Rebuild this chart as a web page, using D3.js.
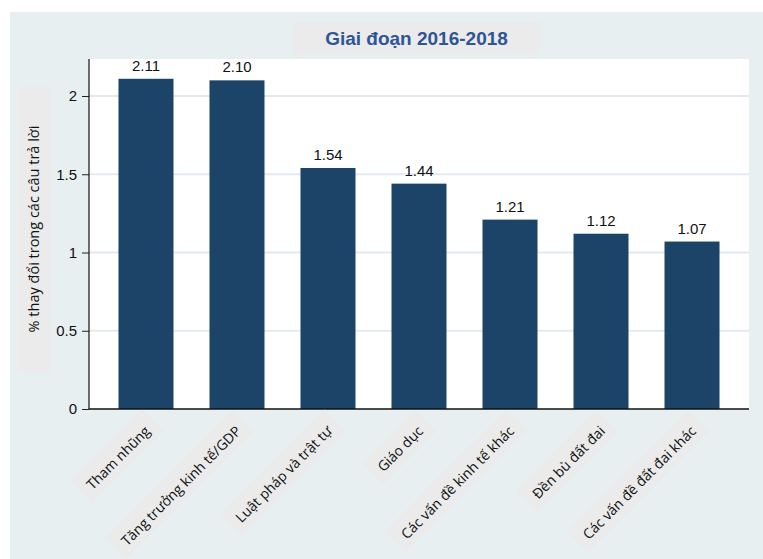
<!DOCTYPE html>
<html>
<head>
<meta charset="utf-8">
<script src="https://cdn.jsdelivr.net/npm/d3@7"></script>
<style>
  body { margin: 0; background: #ffffff; }
  svg { display: block; }
</style>
</head>
<body>
<svg id="chart" width="763" height="559"></svg>
<script>
// Issue categories and the change in share of answers (%)
const categories = [
  "Tham nhũng",
  "Tăng trưởng kinh tế/GDP",
  "Luật pháp và trật tự",
  "Giáo dục",
  "Các vấn đề kinh tế khác",
  "Đền bù đất đai",
  "Các vấn đề đất đai khác"
];
const values = [2.11, 2.10, 1.54, 1.44, 1.21, 1.12, 1.07];
const yTicks = [0, 0.5, 1, 1.5, 2];
const titleText = "Giai đoạn 2016-2018";
const yTitleText = "% thay đổi trong các câu trả lời";

const W = 763, H = 559;
const plot = { left: 89, right: 749, top: 59, bottom: 409 };

const svg = d3.select("#chart");

// outer panel
svg.append("rect")
  .attr("x", 10).attr("y", 12)
  .attr("width", W - 10).attr("height", H - 12)
  .attr("fill", "#e8eff1");

const x = d3.scaleBand()
  .domain(categories)
  .range([plot.left, plot.right])
  .paddingInner(0.3956)
  .paddingOuter(0.324);

const y = d3.scaleLinear()
  .domain([0, 2])
  .range([plot.bottom, 96]);

// plot region
svg.append("rect")
  .attr("x", plot.left).attr("y", plot.top)
  .attr("width", plot.right - plot.left)
  .attr("height", plot.bottom - plot.top)
  .attr("fill", "#ffffff");

// horizontal grid
svg.append("g")
  .selectAll("line")
  .data(yTicks.filter(d => d > 0))
  .join("line")
  .attr("x1", plot.left).attr("x2", plot.right)
  .attr("y1", d => y(d)).attr("y2", d => y(d))
  .attr("stroke", "#e2eaef")
  .attr("stroke-width", 2);

// bars
svg.append("g")
  .selectAll("rect")
  .data(categories)
  .join("rect")
  .attr("x", d => x(d))
  .attr("y", (d, i) => y(values[i]))
  .attr("width", x.bandwidth())
  .attr("height", (d, i) => y(0) - y(values[i]))
  .attr("fill", "#1b4468");

// value labels
svg.append("g")
  .selectAll("text")
  .data(categories)
  .join("text")
  .attr("x", d => x(d) + x.bandwidth() / 2)
  .attr("y", (d, i) => y(values[i]) - 8)
  .attr("text-anchor", "middle")
  .attr("font-family", "'Liberation Sans', Arial, sans-serif")
  .attr("font-size", 15)
  .attr("fill", "#111111")
  .text((d, i) => values[i].toFixed(2));

// y axis
const yAxis = svg.append("g")
  .attr("transform", `translate(${plot.left},0)`)
  .call(d3.axisLeft(y).tickValues(yTicks).tickSize(7).tickPadding(5).tickFormat(d3.format("")));
yAxis.select(".domain").remove();
yAxis.selectAll(".tick line").attr("stroke", "#222");
yAxis.selectAll(".tick text")
  .attr("font-family", "'Liberation Sans', Arial, sans-serif")
  .attr("font-size", 15)
  .attr("fill", "#111111");
svg.append("line")
  .attr("x1", plot.left).attr("x2", plot.left)
  .attr("y1", plot.top).attr("y2", plot.bottom)
  .attr("stroke", "#111").attr("stroke-width", 1.2);

// x axis line
svg.append("line")
  .attr("x1", plot.left).attr("x2", plot.right)
  .attr("y1", plot.bottom).attr("y2", plot.bottom)
  .attr("stroke", "#111").attr("stroke-width", 1.5);

// rotated category labels on grey tags
const xl = svg.append("g")
  .selectAll("g")
  .data(categories)
  .join("g")
  .attr("transform", d => `translate(${x(d) + x.bandwidth() / 2 + 5},${plot.bottom + 23}) rotate(-45)`);

xl.append("rect").attr("class", "tag").attr("fill", "#ebebeb");
xl.append("text")
  .attr("text-anchor", "end")
  .attr("font-family", "'Open Sans', 'Noto Sans', sans-serif")
  .attr("font-size", 14)
  .attr("fill", "#111111")
  .text(d => d);
xl.each(function () {
  const g = d3.select(this);
  const b = g.select("text").node().getBBox();
  g.select("rect")
    .attr("x", b.x - 9)
    .attr("y", b.y - 7)
    .attr("width", b.width + 18)
    .attr("height", b.height + 11);
});

// title tag
svg.append("rect")
  .attr("x", 293).attr("y", 22)
  .attr("width", 247).attr("height", 33)
  .attr("fill", "#ebebeb");
svg.append("text")
  .attr("x", 416.5).attr("y", 45)
  .attr("text-anchor", "middle")
  .attr("font-family", "'Liberation Sans', Arial, sans-serif")
  .attr("font-weight", "bold")
  .attr("font-size", 19)
  .attr("fill", "#2e5595")
  .text(titleText);

// y axis title tag
svg.append("rect")
  .attr("x", 17).attr("y", 87)
  .attr("width", 33).attr("height", 285)
  .attr("fill", "#ebebeb");
svg.append("text")
  .attr("transform", `translate(39,${(113 + 345) / 2}) rotate(-90)`)
  .attr("text-anchor", "middle")
  .attr("font-family", "'Open Sans', 'Noto Sans', sans-serif")
  .attr("font-size", 14.5)
  .attr("fill", "#111111")
  .text(yTitleText);
</script>
</body>
</html>
